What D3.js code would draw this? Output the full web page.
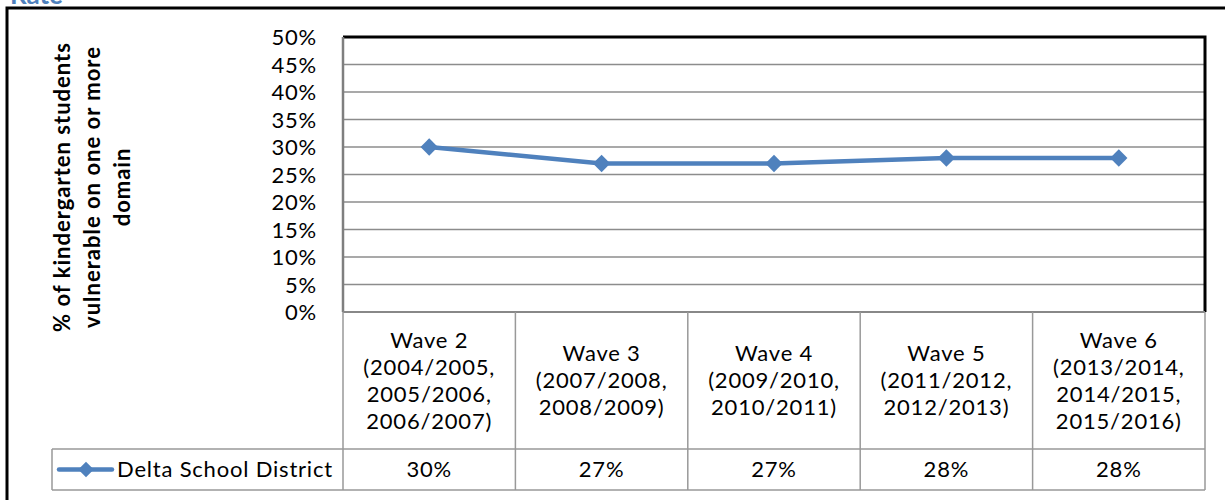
<!DOCTYPE html>
<html><head><meta charset="utf-8">
<script src="https://cdn.jsdelivr.net/npm/d3@7"></script>
<style>body{margin:0;background:#fff}svg{display:block}text{font-family:Lato,"Open Sans",sans-serif}</style>
</head><body>
<script>
const categories = [
  ["Wave 2","(2004/2005,","2005/2006,","2006/2007)"],
  ["Wave 3","(2007/2008,","2008/2009)"],
  ["Wave 4","(2009/2010,","2010/2011)"],
  ["Wave 5","(2011/2012,","2012/2013)"],
  ["Wave 6","(2013/2014,","2014/2015,","2015/2016)"]
];
const seriesName = "Delta School District";
const values = [30, 27, 27, 28, 28];
const yTicks = [0,5,10,15,20,25,30,35,40,45,50];
const yTitle = ["% of kindergarten students","vulnerable on one or more","domain"];
const color = "#4F81BD";

const W=1225,H=500,FS=22,LS="0.8px";
const svg=d3.select("body").append("svg").attr("width",W).attr("height",H);
const L=343,R=1205,T=37,B=312,rowBot=449,tblBot=490,legL=52;

// cut-off title
svg.append("text").attr("x",10).attr("y",4).attr("fill",color).attr("font-weight","bold").attr("font-size",26).text("Rate");

// outer frame
svg.append("path").attr("d",`M7,${H+5}V8H${W+5}`).attr("fill","none").attr("stroke","#000").attr("stroke-width",3);

const x=d3.scaleBand().domain(d3.range(categories.length)).range([L,R]);
const y=d3.scaleLinear().domain([0,50]).range([B,T]);

// gridlines
svg.append("g").selectAll("line").data(yTicks.filter(d=>d>0&&d<50)).join("line")
  .attr("x1",L).attr("x2",R).attr("y1",d=>y(d)).attr("y2",d=>y(d))
  .attr("stroke","#8c8c8c").attr("stroke-width",1.5);

// y axis
const yAxis=d3.axisLeft(y).tickValues(yTicks).tickFormat(d=>d+"%").tickSize(0).tickPadding(26);
const ga=svg.append("g").attr("transform",`translate(${L},0)`).call(yAxis);
ga.select(".domain").remove();
ga.selectAll("text").attr("font-size",FS).attr("font-family",null).attr("letter-spacing",LS).attr("fill","#000").attr("dy","0.36em");

// plot border
svg.append("path").attr("d",`M${L},${T}H${R}V${B}`).attr("fill","none").attr("stroke","#000").attr("stroke-width",3);
svg.append("line").attr("x1",L).attr("x2",L).attr("y1",T).attr("y2",B).attr("stroke","#7f7f7f").attr("stroke-width",2.5);

// table lines
const tg=svg.append("g").attr("stroke","#999").attr("stroke-width",1.5);
tg.append("line").attr("x1",L).attr("x2",R).attr("y1",B).attr("y2",B).attr("stroke","#888").attr("stroke-width",2);
tg.append("line").attr("x1",legL).attr("x2",R).attr("y1",rowBot).attr("y2",rowBot);
tg.append("line").attr("x1",legL).attr("x2",R).attr("y1",tblBot).attr("y2",tblBot);
tg.append("line").attr("x1",legL).attr("x2",legL).attr("y1",rowBot).attr("y2",tblBot);
tg.selectAll(".v").data(d3.range(categories.length+1)).join("line")
  .attr("x1",i=>i<categories.length?x(i):R).attr("x2",i=>i<categories.length?x(i):R)
  .attr("y1",B).attr("y2",tblBot);

// header labels
const lh=27;
svg.append("g").selectAll("text").data(categories).join("text")
  .attr("text-anchor","middle").attr("font-size",FS).attr("letter-spacing",LS).attr("fill","#000")
  .attr("transform",(d,i)=>`translate(${x(i)+x.bandwidth()/2},${(B+rowBot)/2 - (d.length-1)*lh/2})`)
  .selectAll("tspan").data(d=>d).join("tspan").attr("x",0).attr("dy",(d,j)=>j===0?"0.36em":lh).text(d=>d);

// values row
svg.append("g").selectAll("text").data(values).join("text")
  .attr("x",(d,i)=>x(i)+x.bandwidth()/2).attr("y",(rowBot+tblBot)/2).attr("dy","0.36em")
  .attr("text-anchor","middle").attr("font-size",FS).attr("letter-spacing",LS).text(d=>d+"%");

// legend
const ly=(rowBot+tblBot)/2;
svg.append("line").attr("x1",59).attr("x2",112).attr("y1",ly).attr("y2",ly).attr("stroke",color).attr("stroke-width",4.5).attr("stroke-linecap","round");
svg.append("path").attr("d",d3.symbol(d3.symbolSquare,120)()).attr("transform",`translate(86,${ly}) rotate(45)`).attr("fill",color);
svg.append("text").attr("x",117).attr("y",ly).attr("dy","0.36em").attr("font-size",FS).attr("letter-spacing",LS).text(seriesName);

// line series
const line=d3.line().x((d,i)=>x(i)+x.bandwidth()/2).y(d=>y(d));
svg.append("path").datum(values).attr("d",line).attr("fill","none").attr("stroke",color).attr("stroke-width",4.5);
svg.append("g").selectAll("path").data(values).join("path")
  .attr("d",d3.symbol(d3.symbolSquare,150)()).attr("transform",(d,i)=>`translate(${x(i)+x.bandwidth()/2},${y(d)}) rotate(45)`).attr("fill",color);

// y title
svg.append("g").selectAll("text").data(yTitle).join("text")
  .attr("transform",(d,j)=>`translate(${70+30*j},187) rotate(-90)`).attr("text-anchor","middle")
  .attr("font-weight","bold").attr("font-size",22).attr("letter-spacing","1px").text(d=>d);
</script>
</body></html>
